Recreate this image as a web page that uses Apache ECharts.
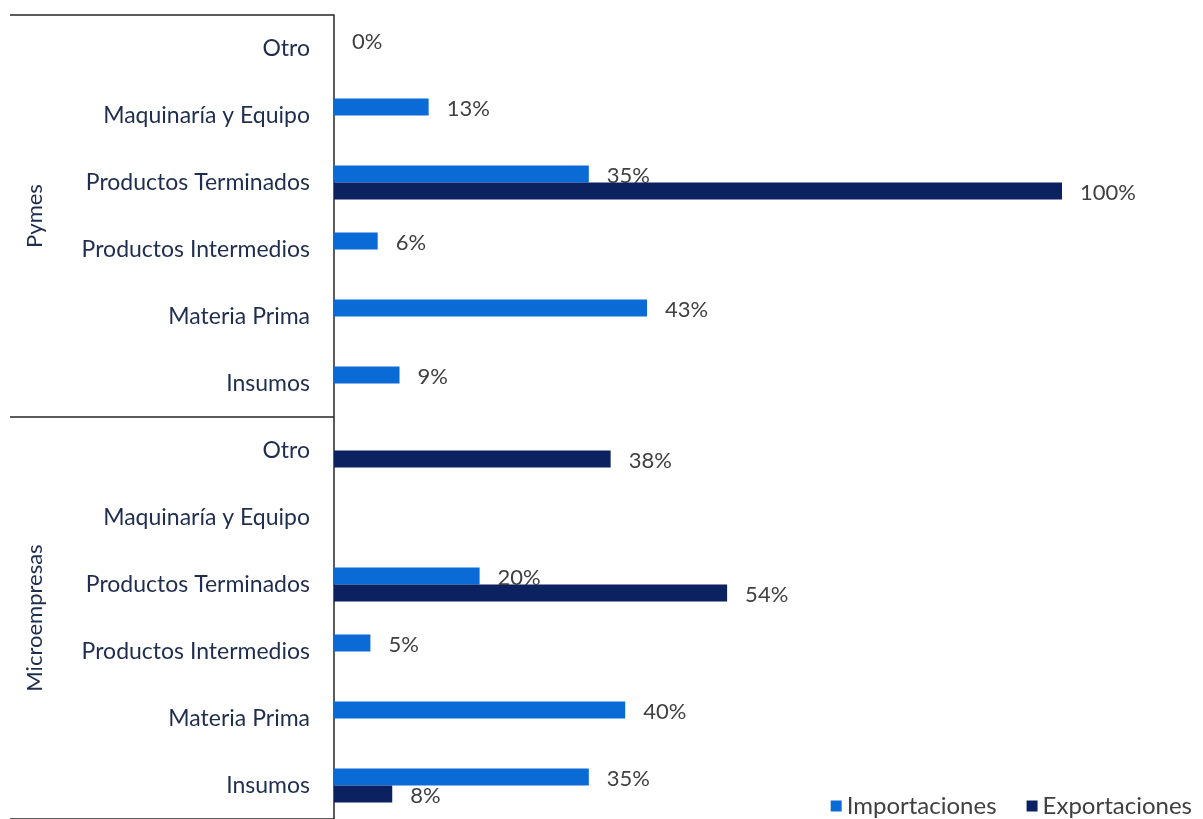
<!DOCTYPE html>
<html>
<head>
<meta charset="utf-8">
<script src="https://cdn.jsdelivr.net/npm/echarts@6/dist/echarts.min.js"></script>
<style>html,body{margin:0;padding:0;background:#fff;}#c{width:1203px;height:819px;}</style>
</head>
<body>
<div id="c"></div>
<script>
// Categories listed top to bottom
const categories = [
  'Otro', 'Maquinaría y Equipo', 'Productos Terminados', 'Productos Intermedios', 'Materia Prima', 'Insumos',
  'Otro ', 'Maquinaría y Equipo ', 'Productos Terminados ', 'Productos Intermedios ', 'Materia Prima ', 'Insumos '
];
const groups = ['Pymes', 'Microempresas'];
const importaciones = [0, 13, 35, 6, 43, 9, null, null, 20, 5, 40, 35];
const exportaciones = [null, null, 100, null, null, null, 38, null, 54, null, null, 8];
const seriesNames = ['Importaciones', 'Exportaciones'];

const chart = echarts.init(document.getElementById('c'));
const labelStyle = {
  show: true, position: 'right', distance: 18, offset: [0, 2],
  formatter: p => p.value + '%',
  fontFamily: 'Lato', fontSize: 22, color: '#404040'
};
chart.setOption({
  animation: false,
  backgroundColor: '#fff',
  textStyle: { fontFamily: 'Lato' },
  grid: { left: 334, top: 15, bottom: 0, right: 141, containLabel: false },
  legend: {
    right: 6, top: 789, itemWidth: 11, itemHeight: 11, itemGap: 30,
    icon: 'rect',
    textStyle: { fontFamily: 'Lato', fontSize: 24, color: '#404040' },
    data: seriesNames
  },
  xAxis: { type: 'value', min: 0, max: 100, show: false },
  yAxis: [
    {
      type: 'category', data: categories, inverse: true,
      axisLine: { show: true, lineStyle: { color: '#262626', width: 1.5 } },
      axisTick: { show: false },
      axisLabel: { margin: 24, fontFamily: 'Lato', fontSize: 23, color: '#1f2d4f',
        formatter: v => v.trim() }
    },
    {
      type: 'category', data: groups, inverse: true, position: 'left', offset: 0,
      axisLine: { show: false },
      axisTick: { show: true, length: 324, lineStyle: { color: '#262626', width: 1.5 } },
      axisLabel: { rotate: 90, margin: 288, fontFamily: 'Lato', fontSize: 22, color: '#1f2d4f' }
    }
  ],
  series: [
    { name: seriesNames[0], type: 'bar', data: importaciones, barWidth: 17, barGap: '0%',
      itemStyle: { color: '#0a6bd6' }, label: labelStyle },
    { name: seriesNames[1], type: 'bar', data: exportaciones, barWidth: 17, barGap: '0%',
      itemStyle: { color: '#0b2160' }, label: labelStyle }
  ]
});
</script>
</body>
</html>
